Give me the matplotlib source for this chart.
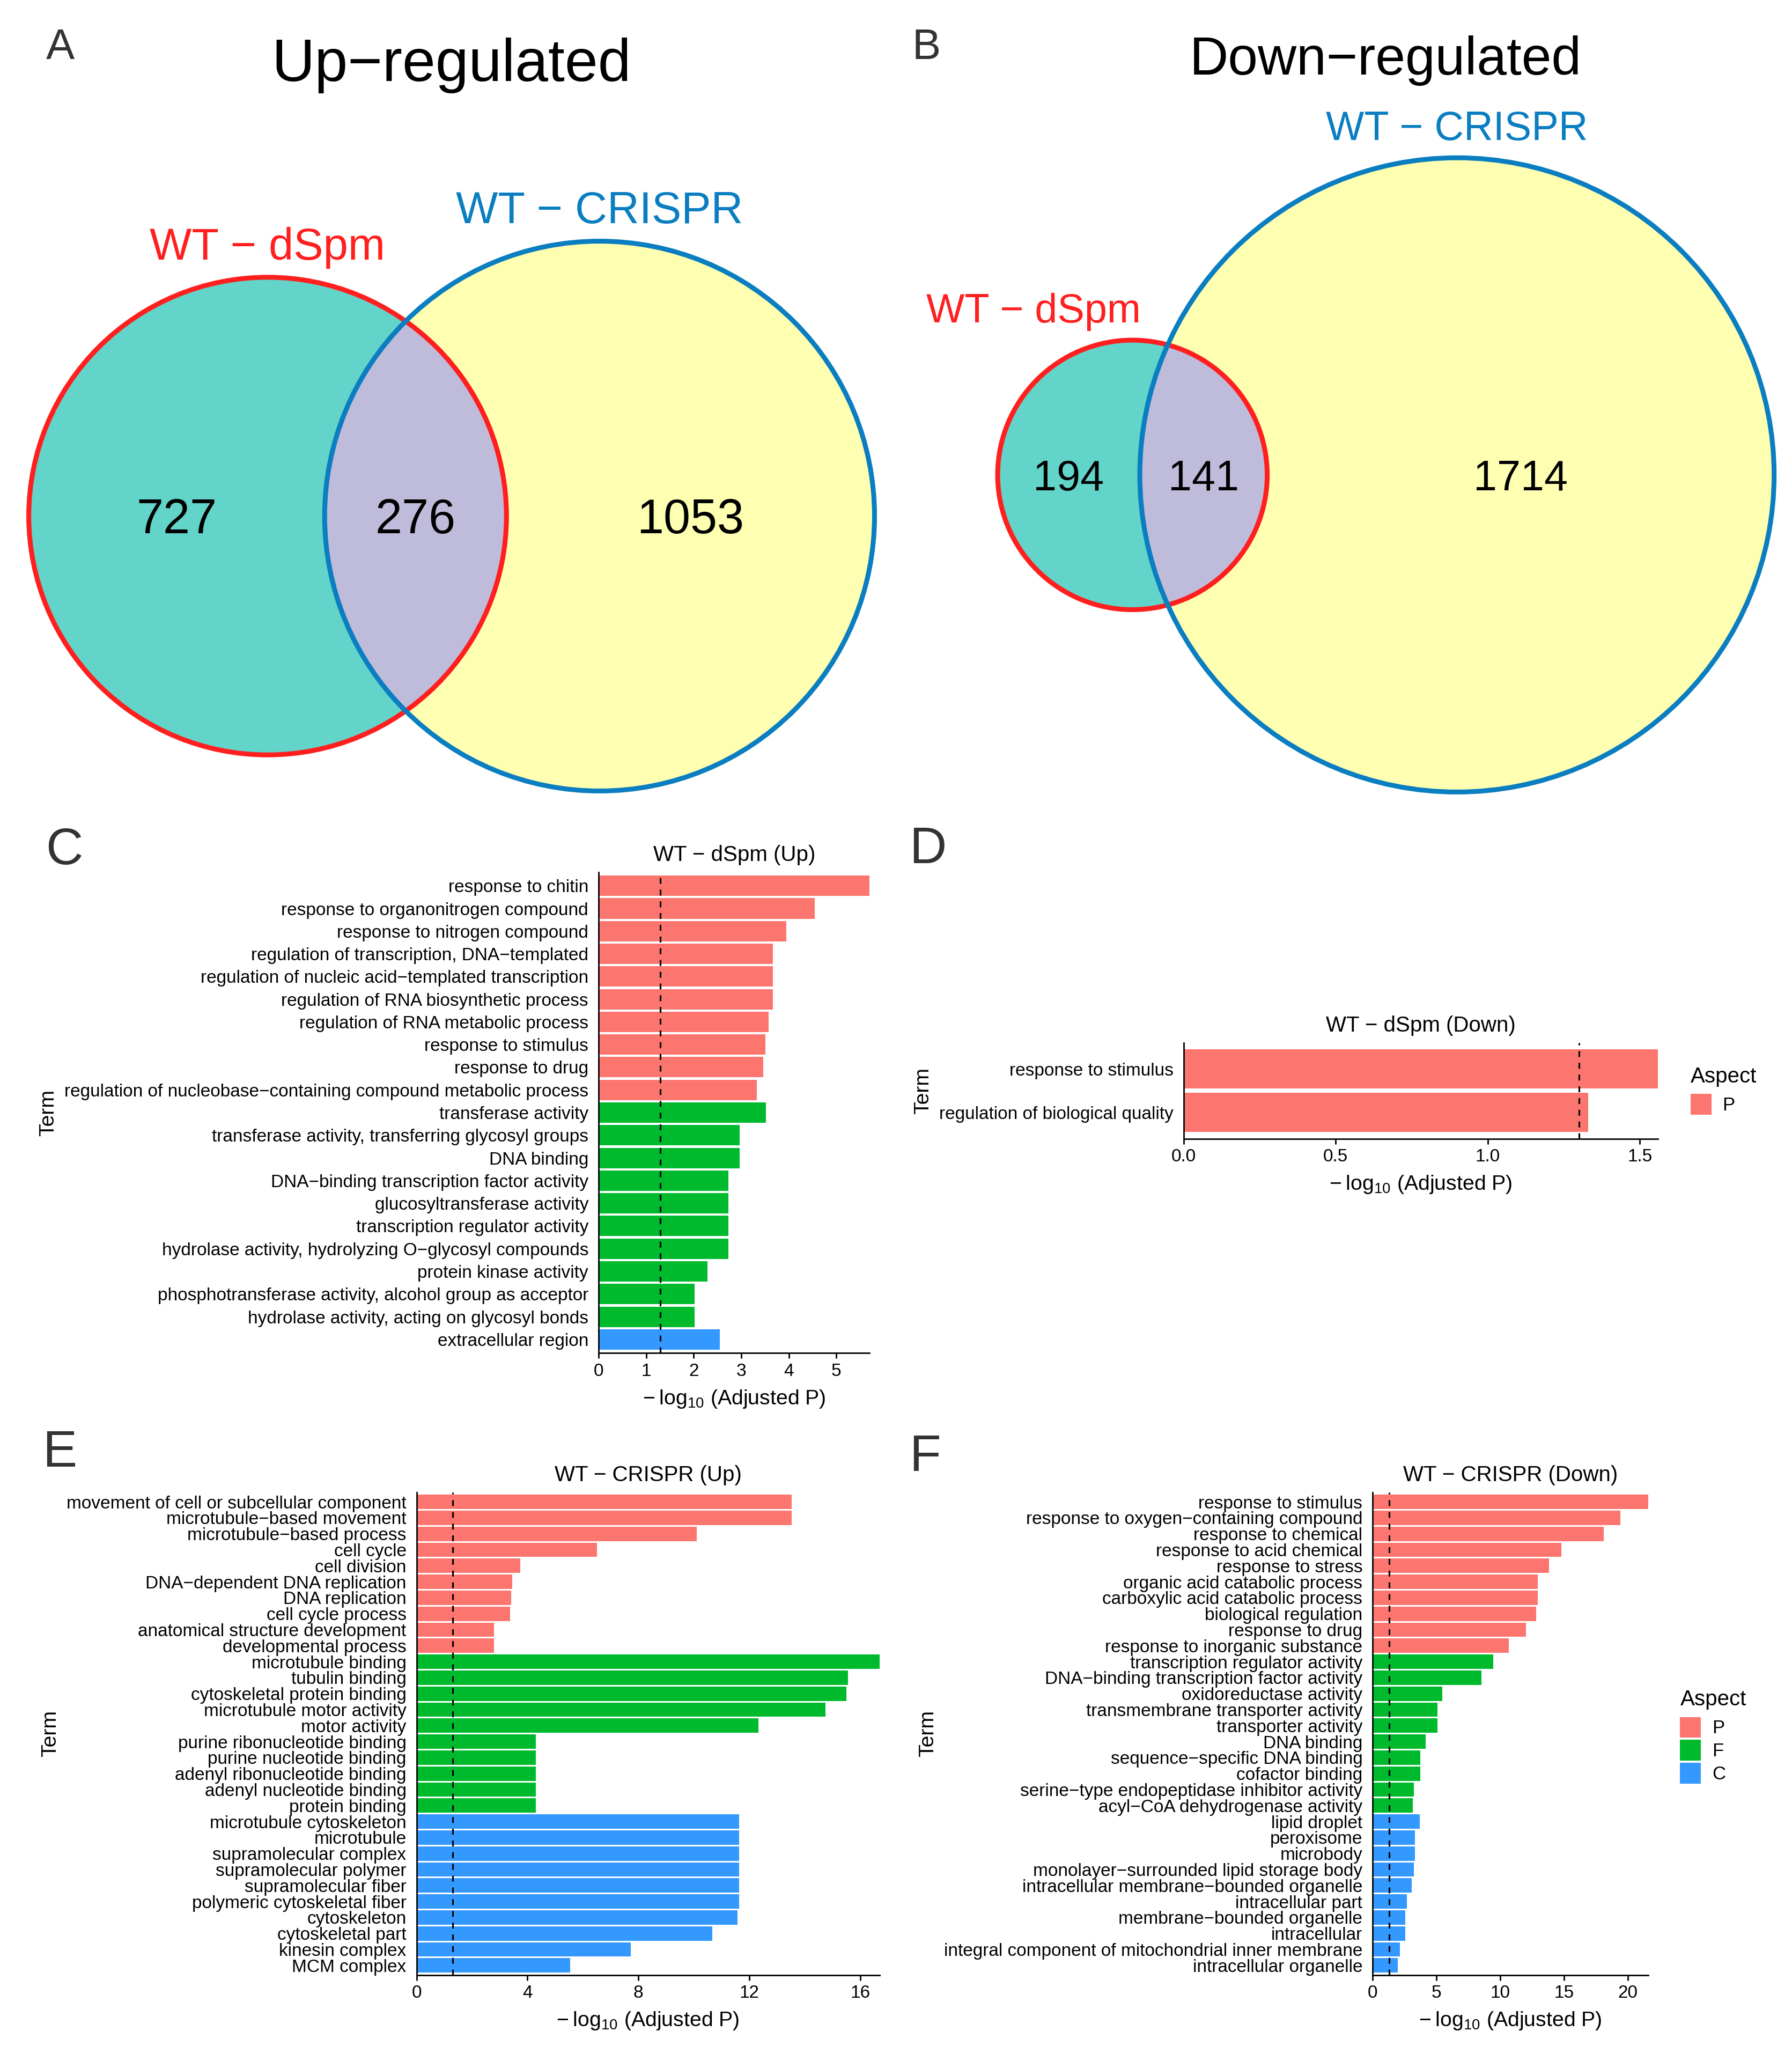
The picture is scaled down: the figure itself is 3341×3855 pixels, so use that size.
import numpy as np
import matplotlib.pyplot as plt
from matplotlib.patches import Circle, Patch
from matplotlib.ticker import MultipleLocator, FormatStrFormatter

plt.rcParams['font.family'] = ['Liberation Sans', 'DejaVu Sans']
plt.rcParams['mathtext.fontset'] = 'custom'
plt.rcParams['mathtext.rm'] = 'Liberation Sans'
plt.rcParams['mathtext.it'] = 'Liberation Sans:italic'
plt.rcParams['mathtext.bf'] = 'Liberation Sans:bold'

# ---- venn counts (only A, both, only B) ----
up_counts = [727, 276, 1053]
down_counts = [194, 141, 1714]
set_names = ['WT \u2212 dSpm', 'WT \u2212 CRISPR']

# ---- GO enrichment (-log10 adjusted P) ----
c_terms = ['response to chitin', 'response to organonitrogen compound',
           'response to nitrogen compound', 'regulation of transcription, DNA\u2212templated',
           'regulation of nucleic acid\u2212templated transcription',
           'regulation of RNA biosynthetic process', 'regulation of RNA metabolic process',
           'response to stimulus', 'response to drug',
           'regulation of nucleobase\u2212containing compound metabolic process',
           'transferase activity', 'transferase activity, transferring glycosyl groups',
           'DNA binding', 'DNA\u2212binding transcription factor activity',
           'glucosyltransferase activity', 'transcription regulator activity',
           'hydrolase activity, hydrolyzing O\u2212glycosyl compounds', 'protein kinase activity',
           'phosphotransferase activity, alcohol group as acceptor',
           'hydrolase activity, acting on glycosyl bonds', 'extracellular region']
c_vals = [5.70, 4.54, 3.95, 3.66, 3.66, 3.66, 3.58, 3.51, 3.46, 3.33,
          3.52, 2.96, 2.96, 2.73, 2.73, 2.73, 2.73, 2.29, 2.02, 2.02, 2.55]
c_aspect = ['P'] * 10 + ['F'] * 10 + ['C']

d_terms = ['response to stimulus', 'regulation of biological quality']
d_vals = [1.56, 1.33]
d_aspect = ['P', 'P']

e_terms = ['movement of cell or subcellular component', 'microtubule\u2212based movement',
           'microtubule\u2212based process', 'cell cycle', 'cell division',
           'DNA\u2212dependent DNA replication', 'DNA replication', 'cell cycle process',
           'anatomical structure development', 'developmental process',
           'microtubule binding', 'tubulin binding', 'cytoskeletal protein binding',
           'microtubule motor activity', 'motor activity', 'purine ribonucleotide binding',
           'purine nucleotide binding', 'adenyl ribonucleotide binding',
           'adenyl nucleotide binding', 'protein binding',
           'microtubule cytoskeleton', 'microtubule', 'supramolecular complex',
           'supramolecular polymer', 'supramolecular fiber', 'polymeric cytoskeletal fiber',
           'cytoskeleton', 'cytoskeletal part', 'kinesin complex', 'MCM complex']
e_vals = [13.53, 13.53, 10.10, 6.51, 3.74, 3.45, 3.42, 3.38, 2.79, 2.79,
          16.70, 15.57, 15.50, 14.75, 12.33, 4.31, 4.31, 4.31, 4.31, 4.31,
          11.64, 11.64, 11.64, 11.64, 11.64, 11.64, 11.58, 10.67, 7.73, 5.55]
e_aspect = ['P'] * 10 + ['F'] * 10 + ['C'] * 10

f_terms = ['response to stimulus', 'response to oxygen\u2212containing compound',
           'response to chemical', 'response to acid chemical', 'response to stress',
           'organic acid catabolic process', 'carboxylic acid catabolic process',
           'biological regulation', 'response to drug', 'response to inorganic substance',
           'transcription regulator activity', 'DNA\u2212binding transcription factor activity',
           'oxidoreductase activity', 'transmembrane transporter activity',
           'transporter activity', 'DNA binding', 'sequence\u2212specific DNA binding',
           'cofactor binding', 'serine\u2212type endopeptidase inhibitor activity',
           'acyl\u2212CoA dehydrogenase activity',
           'lipid droplet', 'peroxisome', 'microbody', 'monolayer\u2212surrounded lipid storage body',
           'intracellular membrane\u2212bounded organelle', 'intracellular part',
           'membrane\u2212bounded organelle', 'intracellular',
           'integral component of mitochondrial inner membrane', 'intracellular organelle']
f_vals = [21.60, 19.41, 18.10, 14.78, 13.83, 12.93, 12.93, 12.83, 12.02, 10.66,
          9.43, 8.53, 5.44, 5.08, 5.08, 4.13, 3.72, 3.72, 3.22, 3.13,
          3.67, 3.31, 3.31, 3.22, 3.04, 2.68, 2.54, 2.54, 2.13, 1.95]
f_aspect = ['P'] * 10 + ['F'] * 10 + ['C'] * 10

aspect_colors = {'P': '#FC766F', 'F': '#00BA2E', 'C': '#3399FF'}
p_cutoff = 0.05

# page in "reference pixels"
W, H = 1362.0, 1572.0
fig = plt.figure(figsize=(3341 / 250, 3855 / 250), dpi=250)


def fx(x):
    return x / W


def fy(y):
    return 1 - y / H


def lens_area(d, r1, r2):
    a1 = r1 ** 2 * np.arccos((d ** 2 + r1 ** 2 - r2 ** 2) / (2 * d * r1))
    a2 = r2 ** 2 * np.arccos((d ** 2 + r2 ** 2 - r1 ** 2) / (2 * d * r2))
    a3 = 0.5 * np.sqrt((-d + r1 + r2) * (d + r1 - r2) * (d - r1 + r2) * (d + r1 + r2))
    return a1 + a2 - a3


def center_dist(r1, r2, both):
    # bisection so the overlap area equals the shared count
    lo, hi = abs(r1 - r2) + 1e-9, r1 + r2 - 1e-9
    for _ in range(100):
        mid = (lo + hi) / 2
        if lens_area(mid, r1, r2) > both:
            lo = mid
        else:
            hi = mid
    return (lo + hi) / 2


def venn(counts, cx, cy, s, name_size, num_size, name_dx=(0, 0)):
    only_a, both, only_b = counts
    r1 = np.sqrt((only_a + both) / np.pi)
    r2 = np.sqrt((only_b + both) / np.pi)
    d = center_dist(r1, r2, both)
    pad = 3
    x0, x1 = -r1 - pad, d + r2 + pad
    rm = max(r1, r2)
    y0, y1 = -rm - pad, rm + pad
    ax = fig.add_axes([fx(cx + x0 * s), fy(cy - y0 * s), (x1 - x0) * s / W, (y1 - y0) * s / H])
    ax.set_xlim(x0, x1)
    ax.set_ylim(y0, y1)
    ax.axis('off')

    ax.add_patch(Circle((0, 0), r1, fc='#62D4C9', ec='none'))
    c2 = Circle((d, 0), r2, fc='#FFFFB2', ec='none')
    ax.add_patch(c2)
    lens = Circle((0, 0), r1, fc='#BFBBDA', ec='none')
    ax.add_patch(lens)
    lens.set_clip_path(c2)
    ax.add_patch(Circle((0, 0), r1, fill=False, ec='#FF1F1F', lw=2.6, clip_on=False))
    ax.add_patch(Circle((d, 0), r2, fill=False, ec='#0A7EC0', lw=2.6, clip_on=False))

    # counts in the middle of each region
    xs = [(-r1 + d - r2) / 2, (d - r2 + r1) / 2, (r1 + d + r2) / 2]
    for x, n in zip(xs, counts):
        ax.annotate(str(n), (x, 0), xytext=(0, -0.358 * num_size), textcoords='offset points',
                    ha='center', va='baseline', fontsize=num_size)

    gap = 13.5 / s
    ax.text(0 + name_dx[0] / s, r1 + gap, set_names[0], color='#FF1F1F', fontsize=name_size,
            ha='center', va='baseline', clip_on=False)
    ax.text(d + name_dx[1] / s, r2 + gap, set_names[1], color='#0A7EC0', fontsize=name_size,
            ha='center', va='baseline', clip_on=False)


def bar_panel(box, terms, vals, aspects, title, step, fmt=None, legend_at=None):
    left, right, top, bottom = box
    ax = fig.add_axes([fx(left), fy(bottom), (right - left) / W, (bottom - top) / H])
    n = len(terms)
    y = np.arange(n, 0, -1)
    ax.barh(y, vals, height=0.9, color=[aspect_colors[a] for a in aspects])
    ax.axvline(-np.log10(p_cutoff), color='black', lw=0.9, ls=(0, (3.5, 3.5)))
    ax.set_xlim(0, max(vals))
    ax.set_ylim(0.4, n + 0.6)
    ax.set_yticks(y)
    ax.set_yticklabels(terms)
    ax.xaxis.set_major_locator(MultipleLocator(step))
    if fmt:
        ax.xaxis.set_major_formatter(FormatStrFormatter(fmt))
    for sp in ['top', 'right']:
        ax.spines[sp].set_visible(False)
    for sp in ['left', 'bottom']:
        ax.spines[sp].set_linewidth(0.8)
    ax.tick_params(axis='y', length=0, pad=5.5, labelsize=9.6, colors='black')
    ax.tick_params(axis='x', length=2.9, width=0.8, pad=2.5, labelsize=9.6, colors='black')
    ax.set_title(title, fontsize=11.6, pad=6)
    ax.set_xlabel('\u2212\u2009log$_{10}$ (Adjusted P)', fontsize=11.3, labelpad=4.5)
    ax.set_ylabel('Term', fontsize=11.3, labelpad=3.5)

    if legend_at is not None:
        present = [a for a in ['P', 'F', 'C'] if a in aspects]
        handles = [Patch(facecolor=aspect_colors[a], edgecolor='none', label=a) for a in present]
        leg = fig.legend(handles=handles, title='Aspect', loc='upper left',
                         bbox_to_anchor=(fx(legend_at[0]), fy(legend_at[1])),
                         frameon=False, fontsize=10, title_fontsize=11.6, alignment='left',
                         handlelength=1.11, handleheight=1.33, handletextpad=0.6,
                         labelspacing=0.12, borderpad=0, borderaxespad=0)
        leg._legend_box.sep = 4
    return ax


# panel letters
letters = [('A', 46, 45, 23), ('B', 704, 45, 23), ('C', 49, 657, 27.7),
           ('D', 705, 656, 27.7), ('E', 45.5, 1115, 27.7), ('F', 703, 1118, 27.7)]
for lab, x, yb, size in letters:
    fig.text(fx(x), fy(yb), lab, fontsize=size, color='#333333', ha='center', va='baseline')

# A / B venn diagrams
fig.text(fx(343), fy(61.7), 'Up\u2212regulated', fontsize=32, ha='center', va='baseline')
fig.text(fx(1053), fy(56.6), 'Down\u2212regulated', fontsize=28.8, ha='center', va='baseline')
venn(up_counts, 203.4, 392.3, 10.16, 23.9, 25.9)
venn(down_counts, 860.7, 361.0, 9.92, 21.8, 22.8, name_dx=(-75, 0))

# C-F GO bar charts
bar_panel((455, 661, 663, 1028.5), c_terms, c_vals, c_aspect, 'WT \u2212 dSpm (Up)', 1)
bar_panel((899.6, 1260.2, 792.6, 865.6), d_terms, d_vals, d_aspect, 'WT \u2212 dSpm (Down)',
          0.5, fmt='%.1f', legend_at=(1285, 810.5))
bar_panel((316.6, 668.5, 1134.3, 1501.3), e_terms, e_vals, e_aspect, 'WT \u2212 CRISPR (Up)', 4)
bar_panel((1043.4, 1252.7, 1134.3, 1501.3), f_terms, f_vals, f_aspect,
          'WT \u2212 CRISPR (Down)', 5, legend_at=(1277, 1284))

fig.savefig('out.png', dpi=250)
